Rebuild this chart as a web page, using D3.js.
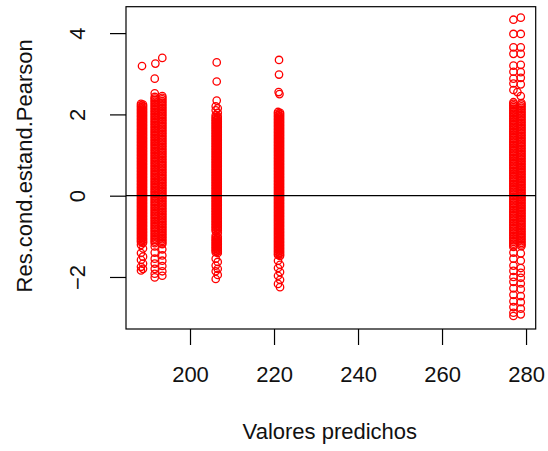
<!DOCTYPE html>
<meta charset="utf-8">
<script src="https://d3js.org/d3.v7.min.js"></script>
<style>
	body{
		margin:0;
		background:#fff;
		font-family: 'Liberation Sans', Arial, sans-serif;
	}
	.tick text{
		font-size:22px;
		fill:#111;
	}
</style>
<div id="chart"></div>
<script>

// predicted values (x) for each column of observations
var pred1 = [188.33, 188.81]
var pred2 = [191.6, 193.4]
var pred3 = [206.12, 206.6]
var pred4 = [220.95, 221.43]
var pred5 = [277.0, 278.9]

// conditional standardized Pearson residuals (y)
// (the solid bands are thousands of overlapping points)
var res1 = [2.26,2.24,2.22,2.2,2.18,2.16,2.14,2.12,2.1,2.08,2.06,2.04,2.02,2,1.98,1.96,1.94,1.92,1.9,1.88,1.86,1.84,1.82,1.8,1.78,1.76,1.74,1.72,1.7,1.68,1.66,1.64,1.62,1.6,1.58,1.56,1.54,1.52,1.5,1.48,1.46,1.44,1.42,1.4,1.38,1.36,1.34,1.32,1.3,1.28,1.26,1.24,1.22,1.2,1.18,1.16,1.14,1.12,1.1,1.08,1.06,1.04,1.02,1,0.98,0.96,0.94,0.92,0.9,0.88,0.86,0.84,0.82,0.8,0.78,0.76,0.74,0.72,0.7,0.68,0.66,0.64,0.62,0.6,0.58,0.56,0.54,0.52,0.5,0.48,0.46,0.44,0.42,0.4,0.38,0.36,0.34,0.32,0.3,0.28,0.26,0.24,0.22,0.2,0.18,0.16,0.14,0.12,0.1,0.08,0.06,0.04,0.02,0,-0.02,-0.04,-0.06,-0.08,-0.1,-0.12,-0.14,-0.16,-0.18,-0.2,-0.22,-0.24,-0.26,-0.28,-0.3,-0.32,-0.34,-0.36,-0.38,-0.4,-0.42,-0.44,-0.46,-0.48,-0.5,-0.52,-0.54,-0.56,-0.58,-0.6,-0.62,-0.64,-0.66,-0.68,-0.7,-0.72,-0.74,-0.76,-0.78,-0.8,-0.82,-0.84,-0.86,-0.88,-0.9,-0.92,-0.94,-0.96,-0.98,-1,-1.02,-1.04,-1.06,-1.08,-1.1,-1.12,-1.14,-1.16,-1.21,-1.3,-1.41,-1.5,-1.58,-1.67,-1.75,-1.8,-1.84]
var res2 = [2.52,2.45,2.43,2.41,2.39,2.37,2.35,2.33,2.31,2.29,2.27,2.25,2.23,2.21,2.19,2.17,2.15,2.13,2.11,2.09,2.07,2.05,2.03,2.01,1.99,1.97,1.95,1.93,1.91,1.89,1.87,1.85,1.83,1.81,1.79,1.77,1.75,1.73,1.71,1.69,1.67,1.65,1.63,1.61,1.59,1.57,1.55,1.53,1.51,1.49,1.47,1.45,1.43,1.41,1.39,1.37,1.35,1.33,1.31,1.29,1.27,1.25,1.23,1.21,1.19,1.17,1.15,1.13,1.11,1.09,1.07,1.05,1.03,1.01,0.99,0.97,0.95,0.93,0.91,0.89,0.87,0.85,0.83,0.81,0.79,0.77,0.75,0.73,0.71,0.69,0.67,0.65,0.63,0.61,0.59,0.57,0.55,0.53,0.51,0.49,0.47,0.45,0.43,0.41,0.39,0.37,0.35,0.33,0.31,0.29,0.27,0.25,0.23,0.21,0.19,0.17,0.15,0.13,0.11,0.09,0.07,0.05,0.03,0.01,-0.01,-0.03,-0.05,-0.07,-0.09,-0.11,-0.13,-0.15,-0.17,-0.19,-0.21,-0.23,-0.25,-0.27,-0.29,-0.31,-0.33,-0.35,-0.37,-0.39,-0.41,-0.43,-0.45,-0.47,-0.49,-0.51,-0.53,-0.55,-0.57,-0.59,-0.61,-0.63,-0.65,-0.67,-0.69,-0.71,-0.73,-0.75,-0.77,-0.79,-0.81,-0.83,-0.85,-0.87,-0.89,-0.91,-0.93,-0.95,-0.97,-0.99,-1.01,-1.03,-1.05,-1.07,-1.09,-1.11,-1.13,-1.15,-1.17,-1.19,-1.25,-1.32,-1.4,-1.47,-1.55,-1.6,-1.67,-1.73,-1.8,-1.86,-1.92,-1.97,-2.01]
var res3 = [2.2,2.15,2.1,2.04,1.98,1.95,1.93,1.91,1.89,1.87,1.85,1.83,1.81,1.79,1.77,1.75,1.73,1.71,1.69,1.67,1.65,1.63,1.61,1.59,1.57,1.55,1.53,1.51,1.49,1.47,1.45,1.43,1.41,1.39,1.37,1.35,1.33,1.31,1.29,1.27,1.25,1.23,1.21,1.19,1.17,1.15,1.13,1.11,1.09,1.07,1.05,1.03,1.01,0.99,0.97,0.95,0.93,0.91,0.89,0.87,0.85,0.83,0.81,0.79,0.77,0.75,0.73,0.71,0.69,0.67,0.65,0.63,0.61,0.59,0.57,0.55,0.53,0.51,0.49,0.47,0.45,0.43,0.41,0.39,0.37,0.35,0.33,0.31,0.29,0.27,0.25,0.23,0.21,0.19,0.17,0.15,0.13,0.11,0.09,0.07,0.05,0.03,0.01,-0.01,-0.03,-0.05,-0.07,-0.09,-0.11,-0.13,-0.15,-0.17,-0.19,-0.21,-0.23,-0.25,-0.27,-0.29,-0.31,-0.33,-0.35,-0.37,-0.39,-0.41,-0.43,-0.45,-0.47,-0.49,-0.51,-0.53,-0.55,-0.57,-0.59,-0.61,-0.63,-0.65,-0.67,-0.69,-0.71,-0.73,-0.75,-0.77,-0.79,-0.81,-0.83,-0.85,-0.87,-0.92,-0.98,-1.01,-1.03,-1.05,-1.07,-1.09,-1.11,-1.13,-1.15,-1.17,-1.19,-1.21,-1.23,-1.25,-1.27,-1.29,-1.31,-1.33,-1.35,-1.37,-1.39,-1.41,-1.55,-1.63,-1.72,-1.8,-1.86,-1.95,-2.05]
var res4 = [2.06,2.04,2.02,2,1.98,1.96,1.94,1.92,1.9,1.88,1.86,1.84,1.82,1.8,1.78,1.76,1.74,1.72,1.7,1.68,1.66,1.64,1.62,1.6,1.58,1.56,1.54,1.52,1.5,1.48,1.46,1.44,1.42,1.4,1.38,1.36,1.34,1.32,1.3,1.28,1.26,1.24,1.22,1.2,1.18,1.16,1.14,1.12,1.1,1.08,1.06,1.04,1.02,1,0.98,0.96,0.94,0.92,0.9,0.88,0.86,0.84,0.82,0.8,0.78,0.76,0.74,0.72,0.7,0.68,0.66,0.64,0.62,0.6,0.58,0.56,0.54,0.52,0.5,0.48,0.46,0.44,0.42,0.4,0.38,0.36,0.34,0.32,0.3,0.28,0.26,0.24,0.22,0.2,0.18,0.16,0.14,0.12,0.1,0.08,0.06,0.04,0.02,0,-0.02,-0.04,-0.06,-0.08,-0.1,-0.12,-0.14,-0.16,-0.18,-0.2,-0.22,-0.24,-0.26,-0.28,-0.3,-0.32,-0.34,-0.36,-0.38,-0.4,-0.42,-0.44,-0.46,-0.48,-0.5,-0.52,-0.54,-0.56,-0.58,-0.6,-0.62,-0.64,-0.66,-0.68,-0.7,-0.72,-0.74,-0.76,-0.78,-0.8,-0.82,-0.84,-0.86,-0.88,-0.9,-0.92,-0.94,-0.96,-0.98,-1,-1.02,-1.04,-1.06,-1.08,-1.1,-1.12,-1.14,-1.16,-1.18,-1.2,-1.22,-1.24,-1.26,-1.28,-1.3,-1.32,-1.34,-1.36,-1.38,-1.4,-1.42,-1.44,-1.46,-1.48,-1.6,-1.7,-1.78,-1.88,-1.97,-2.07,-2.17,-2.25]
var res5 = [2.3,2.28,2.26,2.24,2.22,2.2,2.18,2.16,2.14,2.12,2.1,2.08,2.06,2.04,2.02,2,1.98,1.96,1.94,1.92,1.9,1.88,1.86,1.84,1.82,1.8,1.78,1.76,1.74,1.72,1.7,1.68,1.66,1.64,1.62,1.6,1.58,1.56,1.54,1.52,1.5,1.48,1.46,1.44,1.42,1.4,1.38,1.36,1.34,1.32,1.3,1.28,1.26,1.24,1.22,1.2,1.18,1.16,1.14,1.12,1.1,1.08,1.06,1.04,1.02,1,0.98,0.96,0.94,0.92,0.9,0.88,0.86,0.84,0.82,0.8,0.78,0.76,0.74,0.72,0.7,0.68,0.66,0.64,0.62,0.6,0.58,0.56,0.54,0.52,0.5,0.48,0.46,0.44,0.42,0.4,0.38,0.36,0.34,0.32,0.3,0.28,0.26,0.24,0.22,0.2,0.18,0.16,0.14,0.12,0.1,0.08,0.06,0.04,0.02,0,-0.02,-0.04,-0.06,-0.08,-0.1,-0.12,-0.14,-0.16,-0.18,-0.2,-0.22,-0.24,-0.26,-0.28,-0.3,-0.32,-0.34,-0.36,-0.38,-0.4,-0.42,-0.44,-0.46,-0.48,-0.5,-0.52,-0.54,-0.56,-0.58,-0.6,-0.62,-0.64,-0.66,-0.68,-0.7,-0.72,-0.74,-0.76,-0.78,-0.8,-0.82,-0.84,-0.86,-0.88,-0.9,-0.92,-0.94,-0.96,-0.98,-1,-1.02,-1.04,-1.06,-1.08,-1.1,-1.12,-1.14,-1.16,-1.18,-1.2,-1.22,-1.24,-1.26]

// isolated points [predicted, residual]
var outliers = [
	[188.57,3.19],
	[193.4,3.39],[191.75,3.25],[191.6,2.88],
	[206.36,3.28],[206.36,2.81],[206.36,2.34],
	[221.19,3.34],[221.19,2.98],[221.1,2.55],[221.3,2.5],
	[277.0,4.33],[278.75,4.38],[277.0,3.98],[278.75,3.98],[277.0,3.65],[278.75,3.65],
	[277.0,3.49],[278.75,3.49],[277.0,3.2],[278.75,3.22],[277.0,3.05],[278.75,3.04],
	[277.0,2.88],[278.75,2.9],[277.0,2.76],[278.75,2.74],[277.0,2.6],[277.95,2.55],[278.75,2.45],
	[277.0,-1.4],[278.75,-1.42],[277.0,-1.55],[278.75,-1.6],[277.0,-1.72],[278.75,-1.78],
	[277.0,-1.85],[278.75,-1.9],[277.0,-2.0],[278.75,-2.02],[277.0,-2.12],[278.75,-2.16],
	[277.0,-2.28],[278.75,-2.3],[277.0,-2.44],[278.75,-2.47],[277.0,-2.6],[278.75,-2.62],
	[277.0,-2.74],[278.75,-2.78],[277.0,-2.88],[278.75,-2.92],[277.0,-2.96]
]

var xTicks = [200,220,240,260,280]
var yTicks = [-2,0,2,4]
var xTitle = "Valores predichos"
var yTitle = "Res.cond.estand.Pearson"

var w = 548
var h = 451
var plotL = 126, plotR = 535.7, plotT = 6.7, plotB = 329

var svg = d3.select("#chart").append("svg").attr("width",w).attr("height",h)

var xScale = d3.scaleLinear().domain([184.76,282.3]).range([plotL,plotR])
var yScale = d3.scaleLinear().domain([-3.28,4.65]).range([plotB,plotT])

// put every residual on one of the predicted values of its column
var points = []
function addColumn(preds,res){
	res.forEach(function(r,i){
		points.push([preds[i%preds.length],r])
	})
}
addColumn(pred1,res1)
addColumn(pred2,res2)
addColumn(pred3,res3)
addColumn(pred4,res4)
addColumn(pred5,res5)
points = points.concat(outliers)

svg.append("g")
	.selectAll("circle")
	.data(points)
	.join("circle")
	.attr("cx",function(d){ return xScale(d[0]) })
	.attr("cy",function(d){ return yScale(d[1]) })
	.attr("r",3.7)
	.attr("fill","none")
	.attr("stroke","#ff0000")
	.attr("stroke-width",1.3)

// reference line at 0
svg.append("line")
	.attr("x1",plotL).attr("x2",plotR)
	.attr("y1",yScale(0)).attr("y2",yScale(0))
	.attr("stroke","#000").attr("stroke-width",1.3)

// box
svg.append("rect")
	.attr("x",plotL).attr("y",plotT)
	.attr("width",plotR-plotL).attr("height",plotB-plotT)
	.attr("fill","none").attr("stroke","#000").attr("stroke-width",1.2)

var xAxis = d3.axisBottom(xScale).tickValues(xTicks).tickSize(16).tickSizeOuter(0)
var gx = svg.append("g").attr("transform","translate(0,"+plotB+")").call(xAxis)
gx.select(".domain").remove()
gx.selectAll(".tick line").attr("stroke","#000").attr("stroke-width",1.2)
gx.selectAll(".tick text").attr("y",53).attr("dy",0)
	.style("font-family","'Liberation Sans', Arial, sans-serif")

var yAxis = d3.axisLeft(yScale).tickValues(yTicks).tickSize(16).tickSizeOuter(0)
var gy = svg.append("g").attr("transform","translate("+plotL+",0)").call(yAxis)
gy.select(".domain").remove()
gy.selectAll(".tick line").attr("stroke","#000").attr("stroke-width",1.2)
gy.selectAll(".tick text")
	.attr("x",0).attr("y",0).attr("dy",0)
	.attr("text-anchor","middle")
	.attr("transform","translate(-41.5,0) rotate(-90)")
	.style("font-family","'Liberation Sans', Arial, sans-serif")

svg.append("text").text(xTitle)
	.attr("x",(plotL+plotR)/2-1).attr("y",439)
	.attr("text-anchor","middle")
	.style("font-size","22px").style("fill","#111")

svg.append("text").text(yTitle)
	.attr("transform","translate(31.5,"+((plotT+plotB)/2-2)+") rotate(-90)")
	.attr("text-anchor","middle")
	.style("font-size","22px").style("fill","#111")

</script>
